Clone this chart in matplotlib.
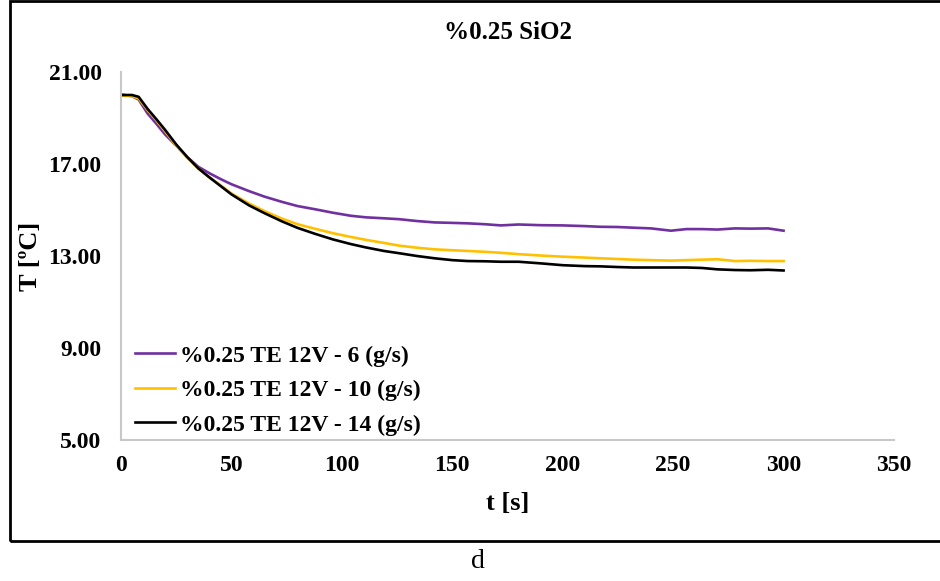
import numpy as np
import matplotlib
matplotlib.use("Agg")
import matplotlib.pyplot as plt
from matplotlib.patches import Rectangle

plt.rcParams["font.family"] = ["Liberation Serif", "DejaVu Serif"]

# time [s]
t = [0, 5, 8, 12, 16, 20, 25, 30, 35, 40, 45, 50, 58, 65, 73, 80, 88, 96, 104,
     111, 119, 126, 134, 142, 150, 157, 165, 172, 180, 190, 200, 210, 217, 225,
     232, 240, 249, 256, 263, 270, 278, 285, 293, 300]

# T [C] for the three flow rates
temp_6 = [20.02, 19.95, 19.8, 19.2, 18.75, 18.28, 17.8, 17.3, 16.88, 16.6, 16.35,
          16.12, 15.82, 15.58, 15.35, 15.17, 15.03, 14.88, 14.75, 14.68, 14.64,
          14.6, 14.52, 14.46, 14.44, 14.42, 14.38, 14.33, 14.37, 14.34, 14.33,
          14.3, 14.27, 14.26, 14.23, 14.2, 14.1, 14.17, 14.17, 14.15, 14.2,
          14.19, 14.2, 14.1]
temp_10 = [19.97, 19.95, 19.85, 19.35, 18.9, 18.42, 17.8, 17.28, 16.8, 16.42,
           16.08, 15.72, 15.28, 14.95, 14.62, 14.38, 14.18, 13.99, 13.83, 13.7,
           13.57, 13.45, 13.36, 13.29, 13.25, 13.22, 13.18, 13.14, 13.08, 13.02,
           12.97, 12.93, 12.9, 12.87, 12.84, 12.82, 12.8, 12.82, 12.84, 12.86,
           12.78, 12.79, 12.78, 12.78]
temp_14 = [20.0, 20.0, 19.92, 19.4, 18.95, 18.48, 17.85, 17.3, 16.81, 16.42,
           16.05, 15.68, 15.2, 14.86, 14.5, 14.22, 13.96, 13.72, 13.52, 13.37,
           13.22, 13.12, 13.0, 12.9, 12.82, 12.78, 12.77, 12.75, 12.75, 12.68,
           12.6, 12.56, 12.55, 12.52, 12.5, 12.5, 12.5, 12.5, 12.48, 12.42,
           12.39, 12.38, 12.4, 12.37]

labels = ["%0.25 TE 12V - 6 (g/s)", "%0.25 TE 12V - 10 (g/s)", "%0.25 TE 12V - 14 (g/s)"]
colors = ["#7030A0", "#FFC000", "#000000"]

fig = plt.figure(figsize=(9.4, 5.81), dpi=100)
ax = fig.add_axes([121 / 940, 1 - 440 / 581, (894 - 121) / 940, (440 - 72) / 581])

for y, lab, c in zip([temp_6, temp_10, temp_14], labels, colors):
    ax.plot(t, y, color=c, lw=1.9, label=lab)

ax.set_xlim(0, 350)
ax.set_ylim(5, 21)
ax.set_xticks(np.arange(0, 351, 50))
ax.set_yticks([5, 9, 13, 17, 21])
ax.set_yticklabels(["%.2f" % v for v in [5, 9, 13, 17, 21]])
ax.tick_params(axis="x", length=0, labelsize=17, pad=11)
ax.tick_params(axis="y", length=0, labelsize=17, pad=14)
for lbl in ax.get_xticklabels() + ax.get_yticklabels():
    lbl.set_fontweight("bold")

for s in ["top", "right"]:
    ax.spines[s].set_visible(False)
for s in ["left", "bottom"]:
    ax.spines[s].set_color("#C8C8C8")
    ax.spines[s].set_linewidth(1.5)

ax.set_xlabel("t [s]", fontsize=19, fontweight="bold", labelpad=11)
ax.set_ylabel("T [ºC]", fontsize=19, fontweight="bold")
ax.yaxis.set_label_coords(-0.102, 0.5)
ax.set_title("%0.25 SiO2", fontsize=18, fontweight="bold", pad=24)

leg = ax.legend(loc="lower left", frameon=False,
                prop={"weight": "bold", "size": 17},
                handlelength=1.7, handletextpad=0.2, labelspacing=0.55,
                borderpad=0, borderaxespad=0,
                bbox_to_anchor=(0.018, 0.012))

# outer frame around the chart
fig.patches.append(Rectangle((10 / 940, 1 - 541 / 581), 1.0, 541 / 581 - 0.002,
                             transform=fig.transFigure, fill=False,
                             edgecolor="black", lw=2))
fig.text(478 / 940, 1 - 562 / 581, "d", ha="center", va="center", fontsize=20)

fig.savefig("out.png", dpi=100)
